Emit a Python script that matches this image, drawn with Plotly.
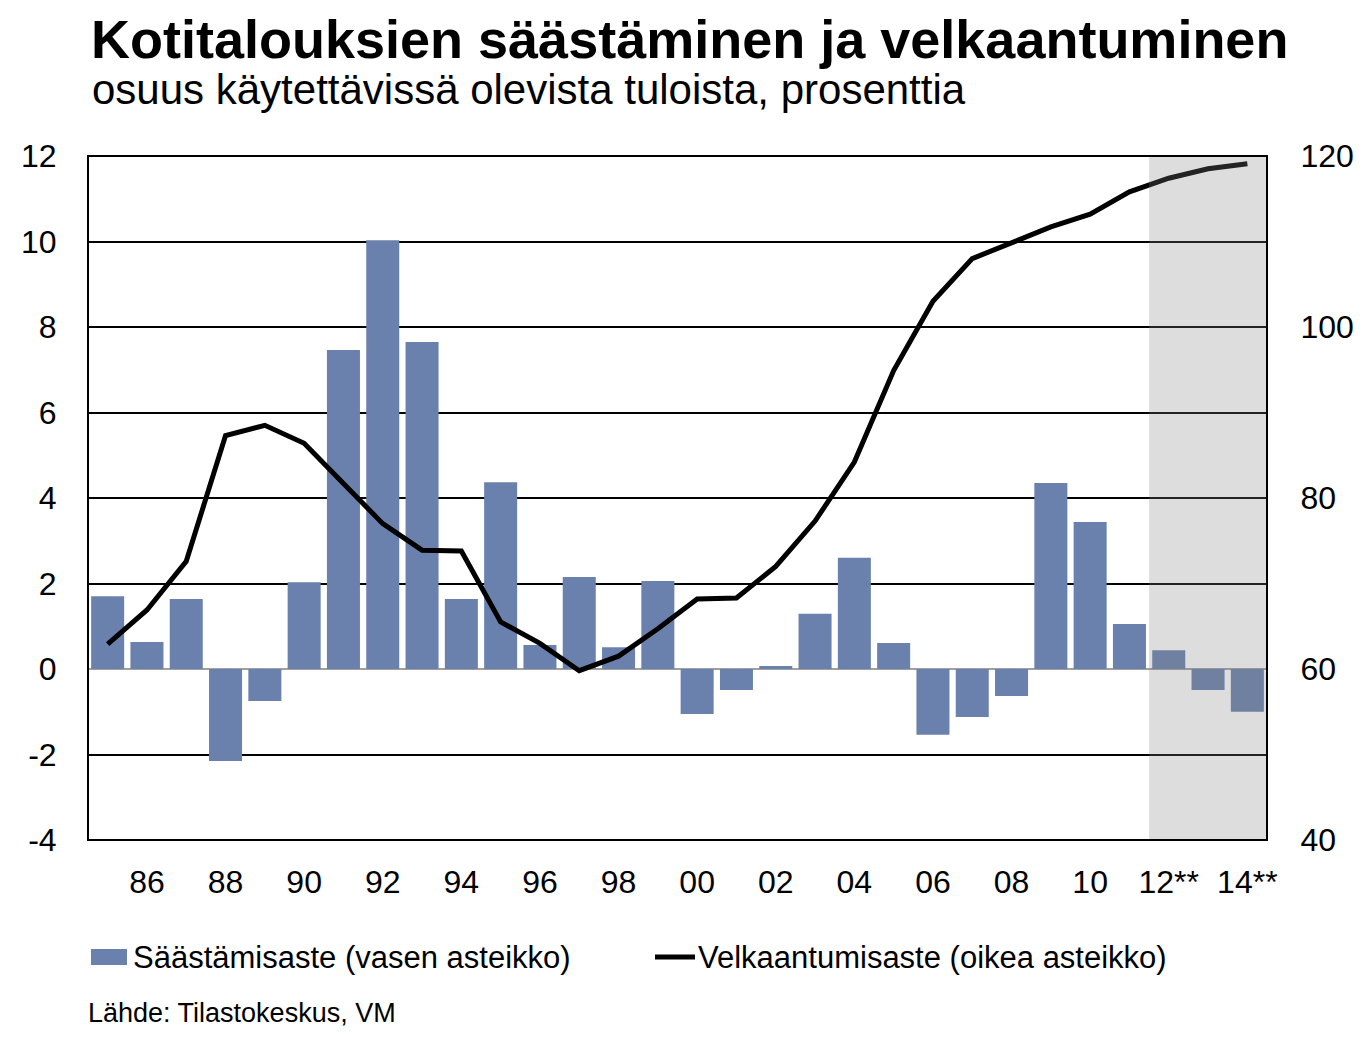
import plotly.graph_objects as go

years = list(range(1985, 2015))
saving_rate = [1.7, 0.63, 1.64, -2.15, -0.75, 2.03, 7.46, 10.03, 7.65, 1.64,
               4.37, 0.56, 2.15, 0.51, 2.06, -1.05, -0.49, 0.07, 1.29, 2.6,
               0.61, -1.54, -1.12, -0.63, 4.35, 3.44, 1.05, 0.44, -0.49, -1.0]
debt_ratio = [62.9, 66.9, 72.6, 87.3, 88.5, 86.4, 81.7, 77.0, 73.9, 73.8,
              65.5, 63.0, 59.8, 61.5, 64.7, 68.2, 68.3, 72.0, 77.3, 84.2,
              94.9, 103.0, 108.0, 109.8, 111.7, 113.2, 115.8, 117.4, 118.5, 119.1]
tick_years = list(range(1986, 2015, 2))
tick_labels = ["86", "88", "90", "92", "94", "96", "98", "00", "02", "04",
               "06", "08", "10", "12**", "14**"]
left_ticks = [-4, -2, 0, 2, 4, 6, 8, 10, 12]
right_ticks = [40, 60, 80, 100, 120]
forecast_start = 2011.5

# page offset (default body margin of the html page)
OFF = 8
W, H = 1368 - OFF, 1037 - OFF
L, R, T, B = 88 - OFF, 1267 - OFF, 156 - OFF, 840 - OFF
FONT = "Liberation Sans, Arial, sans-serif"

def px(x):
    return (x - OFF - L) / (R - L)

def py(y):
    return (B - (y - OFF)) / (B - T)

fig = go.Figure()
fig.add_trace(go.Bar(x=years, y=saving_rate, marker=dict(color="#6a80ad", line=dict(width=0)),
                     name="Säästämisaste (vasen asteikko)", showlegend=False))
fig.add_trace(go.Scatter(x=years, y=debt_ratio, yaxis="y2", mode="lines",
                         line=dict(color="black", width=5),
                         name="Velkaantumisaste (oikea asteikko)", showlegend=False))

shapes = [
    dict(type="rect", xref="x", yref="paper", x0=forecast_start, x1=2014.5, y0=0, y1=1,
         fillcolor="rgb(128,128,128)", opacity=0.27, line=dict(width=0), layer="above"),
    dict(type="rect", xref="paper", yref="paper", x0=0, x1=1, y0=0, y1=1,
         line=dict(color="black", width=2), layer="above"),
    # legend symbols
    dict(type="rect", xref="paper", yref="paper", x0=px(91), x1=px(127), y0=py(965), y1=py(949),
         fillcolor="#6a80ad", line=dict(width=0)),
    dict(type="line", xref="paper", yref="paper", x0=px(655), x1=px(695), y0=py(957), y1=py(957),
         line=dict(color="black", width=5)),
]

annotations = [
    dict(text="<b>Kotitalouksien säästäminen ja velkaantuminen</b>", xref="paper", yref="paper",
         x=px(90), y=py(OFF), xanchor="left", yanchor="top", showarrow=False, borderpad=0,
         font=dict(family=FONT, size=54, color="black")),
    dict(text="osuus käytettävissä olevista tuloista, prosenttia", xref="paper", yref="paper",
         x=px(90), y=py(90), xanchor="left", yanchor="middle", showarrow=False,
         font=dict(family=FONT, size=42, color="black")),
    dict(text="Säästämisaste (vasen asteikko)", xref="paper", yref="paper",
         x=px(131), y=py(957), xanchor="left", yanchor="middle", showarrow=False,
         font=dict(family=FONT, size=31, color="black")),
    dict(text="Velkaantumisaste (oikea asteikko)", xref="paper", yref="paper",
         x=px(696), y=py(957), xanchor="left", yanchor="middle", showarrow=False,
         font=dict(family=FONT, size=31, color="black")),
    dict(text="Lähde: Tilastokeskus, VM", xref="paper", yref="paper",
         x=px(86), y=py(1013), xanchor="left", yanchor="middle", showarrow=False,
         font=dict(family=FONT, size=27, color="black")),
]

fig.update_layout(
    width=W, height=H,
    margin=dict(l=L, r=W - R, t=T, b=H - B, pad=0),
    paper_bgcolor="white", plot_bgcolor="white",
    bargap=0.16,
    font=dict(family=FONT, size=32, color="black"),
    xaxis=dict(range=[1984.5, 2014.5], tickmode="array", tickvals=tick_years, ticktext=tick_labels,
               showgrid=False, zeroline=False, showline=False, ticks="outside", ticklen=14,
               tickcolor="rgba(0,0,0,0)", tickfont=dict(size=32)),
    yaxis=dict(range=[-4, 12], tickmode="array", tickvals=left_ticks,
               ticktext=[str(v) if v >= 0 else "-" + str(-v) for v in left_ticks],
               showgrid=True, gridcolor="black", gridwidth=2, zeroline=True,
               zerolinecolor="#a0a0a0", zerolinewidth=2, showline=False, ticks="outside",
               ticklen=24, tickcolor="rgba(0,0,0,0)", tickfont=dict(size=32)),
    yaxis2=dict(range=[40, 120], tickmode="array", tickvals=right_ticks, overlaying="y",
                side="right", showgrid=False, zeroline=False, showline=False,
                ticks="outside", ticklen=26, tickcolor="rgba(0,0,0,0)", tickfont=dict(size=32)),
    shapes=shapes,
    annotations=annotations,
    showlegend=False,
)

fig.write_html("out.html")
